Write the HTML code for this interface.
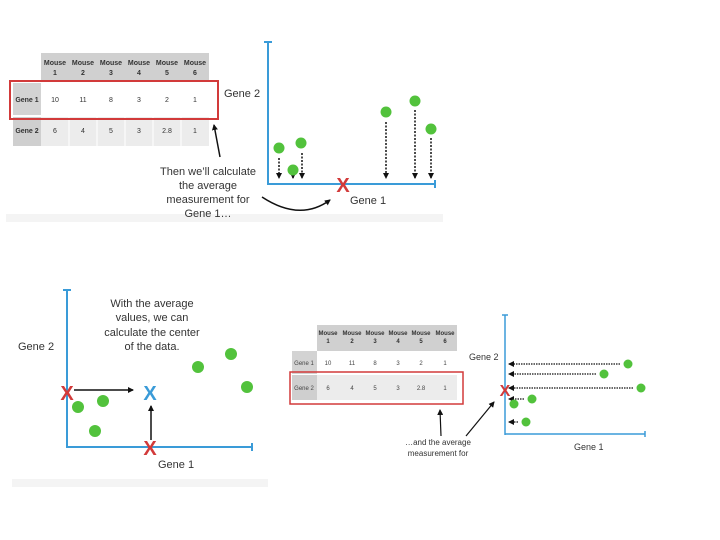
<!DOCTYPE html>
<html><head><meta charset="utf-8"><style>
html,body{margin:0;padding:0;background:#fff;}
svg{display:block;font-family:"Liberation Sans",sans-serif;}
</style></head><body>
<svg width="720" height="540" viewBox="0 0 720 540" xmlns="http://www.w3.org/2000/svg">
<defs>
<marker id="sh" markerWidth="6" markerHeight="6" refX="5" refY="3" orient="auto" markerUnits="userSpaceOnUse"><path d="M0,0 L6,3 L0,6 z" fill="#111"/></marker>
</defs>

<!-- Panel 1 -->
<rect x="6" y="214" width="437" height="8" fill="#f4f4f4"/>
<rect x="41" y="53" width="168" height="29" fill="#d0d0d0"/>
<g font-size="7" font-weight="bold" fill="#333" text-anchor="middle">
<text x="55" y="65">Mouse</text><text x="55" y="75">1</text>
<text x="83" y="65">Mouse</text><text x="83" y="75">2</text>
<text x="111" y="65">Mouse</text><text x="111" y="75">3</text>
<text x="139" y="65">Mouse</text><text x="139" y="75">4</text>
<text x="167" y="65">Mouse</text><text x="167" y="75">5</text>
<text x="195" y="65">Mouse</text><text x="195" y="75">6</text>
</g>
<rect x="13" y="83" width="28" height="32" fill="#d3d3d3"/>
<rect x="13" y="117" width="28" height="29" fill="#cfcfcf"/>
<rect x="41" y="117" width="168" height="29" fill="#ececec"/>
<g stroke="#fff" stroke-width="1"><line x1="69" y1="83" x2="69" y2="146"/><line x1="97" y1="83" x2="97" y2="146"/><line x1="125" y1="83" x2="125" y2="146"/><line x1="153" y1="83" x2="153" y2="146"/><line x1="181" y1="83" x2="181" y2="146"/></g>
<g font-size="7" fill="#333" text-anchor="middle">
<text x="27" y="102" font-weight="bold">Gene 1</text><text x="27" y="133" font-weight="bold">Gene 2</text>
<text x="55" y="102">10</text><text x="83" y="102">11</text><text x="111" y="102">8</text><text x="139" y="102">3</text><text x="167" y="102">2</text><text x="195" y="102">1</text>
<text x="55" y="133">6</text><text x="83" y="133">4</text><text x="111" y="133">5</text><text x="139" y="133">3</text><text x="167" y="133">2.8</text><text x="195" y="133">1</text>
</g>
<rect x="10" y="81" width="208" height="38" fill="none" stroke="#d23a3a" stroke-width="2"/>
<g stroke="#3a9bd8" stroke-width="2"><line x1="268" y1="42" x2="268" y2="185"/><line x1="264" y1="42" x2="272" y2="42"/><line x1="268" y1="184" x2="435" y2="184"/><line x1="435" y1="180" x2="435" y2="188"/></g>
<text x="224" y="97" font-size="11" fill="#333">Gene 2</text>
<text x="350" y="204" font-size="11" fill="#333">Gene 1</text>
<g stroke="#111" stroke-width="1.5" stroke-dasharray="2,1.5">
<line x1="279" y1="158" x2="279" y2="178" marker-end="url(#sh)"/>
<line x1="302" y1="153" x2="302" y2="178" marker-end="url(#sh)"/>
<line x1="293" y1="173" x2="293" y2="178" marker-end="url(#sh)"/>
<line x1="386" y1="122" x2="386" y2="178" marker-end="url(#sh)"/>
<line x1="415" y1="110" x2="415" y2="178" marker-end="url(#sh)"/>
<line x1="431" y1="138" x2="431" y2="178" marker-end="url(#sh)"/>
</g>
<g fill="#52c23c"><circle cx="279" cy="148" r="5.5"/><circle cx="301" cy="143" r="5.5"/><circle cx="293" cy="170" r="5.5"/><circle cx="386" cy="112" r="5.5"/><circle cx="415" cy="101" r="5.5"/><circle cx="431" cy="129" r="5.5"/></g>
<text x="343" y="192" font-size="20" font-weight="bold" fill="#d23a3a" text-anchor="middle">X</text>
<g font-size="11" fill="#333" text-anchor="middle">
<text x="208" y="175">Then we’ll calculate</text><text x="208" y="189">the average</text><text x="208" y="203">measurement for</text><text x="208" y="217">Gene 1…</text>
</g>
<line x1="220" y1="157" x2="214" y2="125" stroke="#111" stroke-width="1.5" marker-end="url(#sh)"/>
<path d="M262,197 Q300,222 330,200" fill="none" stroke="#111" stroke-width="1.5" marker-end="url(#sh)"/>

<!-- Panel 3 -->
<rect x="12" y="479" width="256" height="8" fill="#f4f4f4"/>
<g stroke="#3a9bd8" stroke-width="2"><line x1="67" y1="290" x2="67" y2="448"/><line x1="63" y1="290" x2="71" y2="290"/><line x1="67" y1="447" x2="252" y2="447"/><line x1="252" y1="443" x2="252" y2="451"/></g>
<text x="18" y="350" font-size="11" fill="#333">Gene 2</text>
<text x="158" y="468" font-size="11" fill="#333">Gene 1</text>
<g font-size="11" fill="#333" text-anchor="middle">
<text x="152" y="307">With the average</text><text x="152" y="321">values, we can</text><text x="152" y="336">calculate the center</text><text x="152" y="350">of the data.</text>
</g>
<line x1="74" y1="390" x2="133" y2="390" stroke="#111" stroke-width="1.5" marker-end="url(#sh)"/>
<line x1="151" y1="440" x2="151" y2="406" stroke="#111" stroke-width="1.5" marker-end="url(#sh)"/>
<g fill="#52c23c"><circle cx="78" cy="407" r="6"/><circle cx="103" cy="401" r="6"/><circle cx="95" cy="431" r="6"/><circle cx="198" cy="367" r="6"/><circle cx="231" cy="354" r="6"/><circle cx="247" cy="387" r="6"/></g>
<g font-size="20" font-weight="bold" text-anchor="middle">
<text x="67" y="400" fill="#d23a3a">X</text><text x="150" y="400" fill="#3a9bd8">X</text><text x="150" y="455" fill="#d23a3a">X</text>
</g>

<!-- Panel 4 -->
<rect x="317" y="325" width="140" height="26" fill="#d0d0d0"/>
<g font-size="6" font-weight="bold" fill="#333" text-anchor="middle">
<text x="328" y="335">Mouse</text><text x="328" y="343">1</text>
<text x="352" y="335">Mouse</text><text x="352" y="343">2</text>
<text x="375" y="335">Mouse</text><text x="375" y="343">3</text>
<text x="398" y="335">Mouse</text><text x="398" y="343">4</text>
<text x="421" y="335">Mouse</text><text x="421" y="343">5</text>
<text x="445" y="335">Mouse</text><text x="445" y="343">6</text>
</g>
<rect x="292" y="351" width="25" height="23" fill="#d3d3d3"/>
<rect x="292" y="375" width="25" height="25" fill="#cfcfcf"/>
<rect x="317" y="375" width="140" height="25" fill="#ececec"/>
<g font-size="6" fill="#444" text-anchor="middle">
<text x="304" y="365">Gene 1</text><text x="304" y="390">Gene 2</text>
<text x="328" y="365">10</text><text x="352" y="365">11</text><text x="375" y="365">8</text><text x="398" y="365">3</text><text x="421" y="365">2</text><text x="445" y="365">1</text>
<text x="328" y="390">6</text><text x="352" y="390">4</text><text x="375" y="390">5</text><text x="398" y="390">3</text><text x="421" y="390">2.8</text><text x="445" y="390">1</text>
</g>
<rect x="290" y="372" width="173" height="32" fill="none" stroke="#d23a3a" stroke-width="1.5"/>
<g stroke="#3a9bd8" stroke-width="1.5"><line x1="505" y1="315" x2="505" y2="435"/><line x1="502" y1="315" x2="508" y2="315"/><line x1="505" y1="434" x2="645" y2="434"/><line x1="645" y1="431" x2="645" y2="437"/></g>
<text x="469" y="360" font-size="9" fill="#333">Gene 2</text>
<text x="574" y="450" font-size="9" fill="#333">Gene 1</text>
<g stroke="#111" stroke-width="1.2" stroke-dasharray="1.5,1">
<line x1="620" y1="364" x2="509" y2="364" marker-end="url(#sh)"/>
<line x1="596" y1="374" x2="509" y2="374" marker-end="url(#sh)"/>
<line x1="633" y1="388" x2="509" y2="388" marker-end="url(#sh)"/>
<line x1="524" y1="399" x2="509" y2="399" marker-end="url(#sh)"/>
<line x1="518" y1="422" x2="509" y2="422" marker-end="url(#sh)"/>
</g>
<g fill="#52c23c"><circle cx="628" cy="364" r="4.5"/><circle cx="604" cy="374" r="4.5"/><circle cx="641" cy="388" r="4.5"/><circle cx="532" cy="399" r="4.5"/><circle cx="514" cy="404" r="4.5"/><circle cx="526" cy="422" r="4.5"/></g>
<text x="505" y="396" font-size="16" font-weight="bold" fill="#d23a3a" text-anchor="middle">X</text>
<g font-size="8" fill="#333" text-anchor="middle"><text x="438" y="445">…and the average</text><text x="438" y="456">measurement for</text></g>
<line x1="441" y1="436" x2="440" y2="410" stroke="#111" stroke-width="1.2" marker-end="url(#sh)"/>
<line x1="466" y1="436" x2="494" y2="402" stroke="#111" stroke-width="1.2" marker-end="url(#sh)"/>
<rect x="285" y="458" width="380" height="20" fill="#fff"/>
</svg>
</body></html>
